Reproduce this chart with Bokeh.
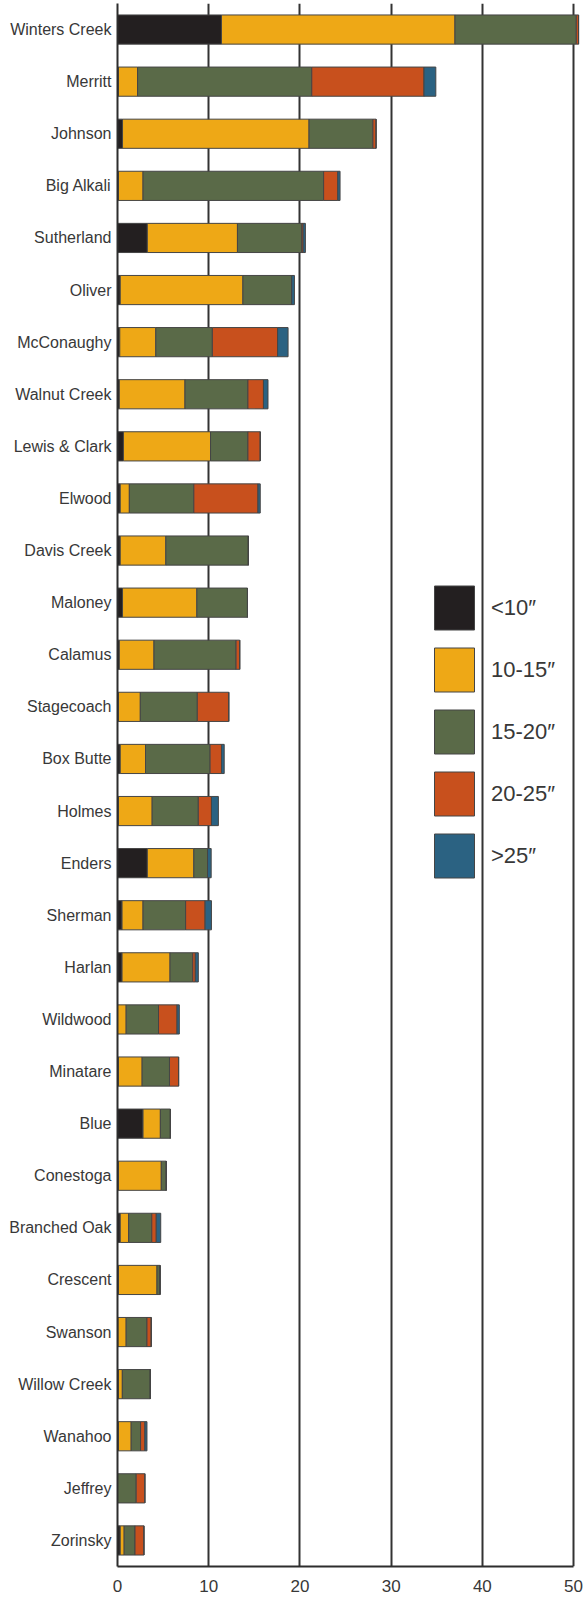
from bokeh.plotting import figure
from bokeh.models import ColumnDataSource, FactorRange, Range1d, Legend, LegendItem, FixedTicker
from bokeh.embed import file_html
from bokeh.resources import INLINE

lakes = ["Winters Creek", "Merritt", "Johnson", "Big Alkali", "Sutherland", "Oliver",
         "McConaughy", "Walnut Creek", "Lewis & Clark", "Elwood", "Davis Creek", "Maloney",
         "Calamus", "Stagecoach", "Box Butte", "Holmes", "Enders", "Sherman", "Harlan",
         "Wildwood", "Minatare", "Blue", "Conestoga", "Branched Oak", "Crescent", "Swanson",
         "Willow Creek", "Wanahoo", "Jeffrey", "Zorinsky"]

under10 = [11.4, 0.1, 0.55, 0.1, 3.27, 0.3, 0.25, 0.2, 0.65, 0.3, 0.3, 0.55, 0.2, 0.1, 0.3,
           0.1, 3.27, 0.5, 0.5, 0, 0.1, 2.8, 0.1, 0.3, 0.1, 0.05, 0.1, 0.1, 0, 0.3]
r10_15 = [25.6, 2.1, 20.45, 2.7, 9.88, 13.45, 3.95, 7.2, 9.55, 1.0, 5.0, 8.15, 3.8, 2.4, 2.77,
          3.7, 5.1, 2.3, 5.26, 0.95, 2.6, 1.9, 4.7, 0.92, 4.23, 0.9, 0.43, 1.4, 0, 0.43]
r15_20 = [13.3, 19.1, 7.0, 19.8, 7.05, 5.35, 6.2, 6.9, 4.1, 7.07, 9.05, 5.55, 9.0, 6.25, 7.08,
          5.06, 1.5, 4.67, 2.49, 3.55, 3.0, 1.1, 0.55, 2.54, 0.33, 2.28, 3.07, 1.03, 2.05, 1.19]
r20_25 = [0.25, 12.3, 0.35, 1.55, 0.15, 0, 7.15, 1.7, 1.35, 7.03, 0, 0, 0.4, 3.45, 1.25,
          1.44, 0, 2.13, 0.28, 2.03, 1.0, 0, 0, 0.49, 0, 0.47, 0, 0.47, 0.95, 0.98]
over25 = [0, 1.3, 0, 0.25, 0.25, 0.3, 1.15, 0.5, 0, 0.25, 0, 0, 0, 0, 0.3,
          0.76, 0.4, 0.7, 0.33, 0.25, 0, 0, 0, 0.49, 0, 0, 0, 0.23, 0, 0]

keys = ["under10", "r10_15", "r15_20", "r20_25", "over25"]
legend_labels = ["<10\u2033", "10-15\u2033", "15-20\u2033", "20-25\u2033", ">25\u2033"]
colors = ["#231f20", "#eea816", "#5a6a48", "#c8501d", "#2b6282"]
x_ticks = [0, 10, 20, 30, 40, 50]

src = ColumnDataSource(dict(lake=lakes, under10=under10, r10_15=r10_15, r15_20=r15_20,
                            r20_25=r20_25, over25=over25))

FONT = "Liberation Sans"
TEXT = "#383838"

p = figure(width=584, height=1600, y_range=FactorRange(factors=lakes[::-1]),
           x_range=Range1d(0, 51.2), output_backend="svg", toolbar_location=None,
           min_border_left=117, min_border_right=0, min_border_top=3, min_border_bottom=34)
p.outline_line_color = None

rs = p.hbar_stack(keys, y="lake", height=0.56, source=src, fill_color=colors,
                  line_color="#454545", line_width=1)

for ax in (p.xaxis, p.yaxis):
    ax.major_tick_line_color = None
    ax.minor_tick_line_color = None
    ax.major_tick_out = 0
    ax.major_tick_in = 0
    ax.minor_tick_out = 0
    ax.minor_tick_in = 0
    ax.axis_line_width = 2
    ax.axis_line_color = "#2d2d2d"
    ax.major_label_text_font = FONT
    ax.major_label_text_color = TEXT

p.xaxis.ticker = FixedTicker(ticks=x_ticks)
p.xaxis.bounds = (0, 50)
p.xaxis.major_label_standoff = 13
p.xaxis.major_label_text_font_size = "17px"

p.yaxis.major_label_standoff = 6
p.yaxis.major_label_text_font_size = "16px"

p.xgrid.ticker = FixedTicker(ticks=x_ticks[1:])
p.xgrid.grid_line_color = "#333333"
p.xgrid.grid_line_width = 2
p.xgrid.grid_line_alpha = 1
p.ygrid.grid_line_color = None

legend = Legend(items=[LegendItem(label=lab, renderers=[r]) for lab, r in zip(legend_labels, rs)],
                location=(312, 683), glyph_width=50, glyph_height=55, spacing=7,
                padding=0, margin=0, label_standoff=12, label_height=55,
                label_text_font=FONT, label_text_font_size="22px", label_text_color=TEXT,
                background_fill_alpha=0, border_line_alpha=0)
p.add_layout(legend)

open("out.html", "w").write(file_html(p, INLINE))
